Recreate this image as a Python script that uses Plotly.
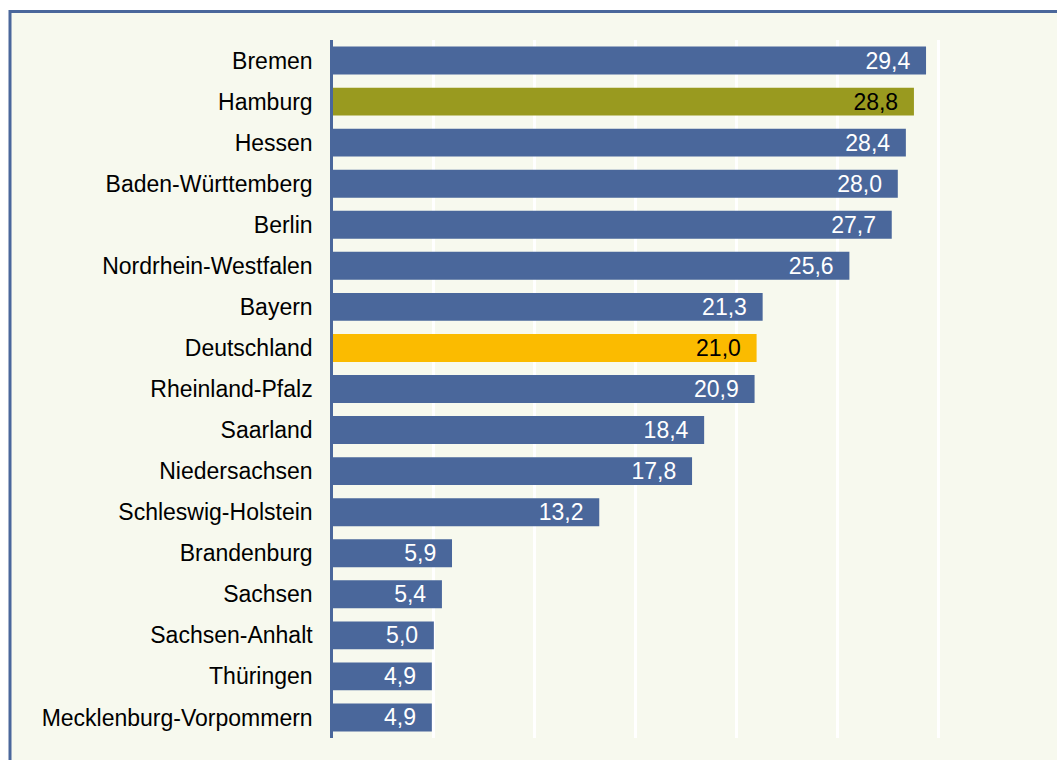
import plotly.graph_objects as go

states = ["Bremen", "Hamburg", "Hessen", "Baden-Württemberg", "Berlin",
          "Nordrhein-Westfalen", "Bayern", "Deutschland", "Rheinland-Pfalz",
          "Saarland", "Niedersachsen", "Schleswig-Holstein", "Brandenburg",
          "Sachsen", "Sachsen-Anhalt", "Thüringen", "Mecklenburg-Vorpommern"]
values = [29.4, 28.8, 28.4, 28.0, 27.7, 25.6, 21.3, 21.0, 20.9, 18.4, 17.8,
          13.2, 5.9, 5.4, 5.0, 4.9, 4.9]

BLUE = "#4a679b"
OLIVE = "#999a1f"
GOLD = "#fbbb00"

colors = [OLIVE if s == "Hamburg" else GOLD if s == "Deutschland" else BLUE for s in states]
text_colors = ["black" if s in ("Hamburg", "Deutschland") else "white" for s in states]
labels = [f"{v:.1f}".replace(".", ",") + "\u00a0\u00a0" for v in values]

FONT = "Liberation Sans, Arial"
FS = 23

W, H = 1057, 760
L, R, T, B = 333, 18, 40, 22

fig = go.Figure(go.Bar(
    x=values, y=states, orientation="h",
    marker=dict(color=colors, line=dict(width=0)),
    text=labels, textposition="inside", insidetextanchor="end",
    textfont=dict(family=FONT, size=FS, color=text_colors),
    cliponaxis=False,
))

pw = W - L - R
ph = H - T - B
# frame box in paper coords
x0 = (10 - L) / pw
x1 = (W + 20 - L) / pw
y1 = 1 + (T - 11.5) / ph
y0 = -(B + 20) / ph
fig.add_shape(type="rect", xref="paper", yref="paper", x0=x0, x1=x1, y0=y0, y1=y1,
              line=dict(color=BLUE, width=3), fillcolor="#f7f9ee", layer="below")

fig.update_layout(
    width=W, height=H,
    margin=dict(l=L, r=R, t=T, b=B),
    paper_bgcolor="white",
    plot_bgcolor="#edebdc",
    bargap=0.32,
    showlegend=False,
    uniformtext=dict(minsize=FS, mode="show"),
    font=dict(family=FONT, size=FS, color="black"),
    xaxis=dict(range=[0, 35], dtick=5, showgrid=True, gridcolor="white", gridwidth=2.5,
               showticklabels=False, zeroline=False, showline=False, fixedrange=True),
    yaxis=dict(autorange="reversed", showline=True, linecolor=BLUE, linewidth=2.5,
               ticks="", ticklabelstandoff=13, showgrid=False,
               tickfont=dict(family=FONT, size=FS, color="black")),
)

fig.write_html(
    "out.html",
    config={"displayModeBar": False},
    post_script="document.body.style.margin='0';document.body.style.overflow='hidden';",
)
